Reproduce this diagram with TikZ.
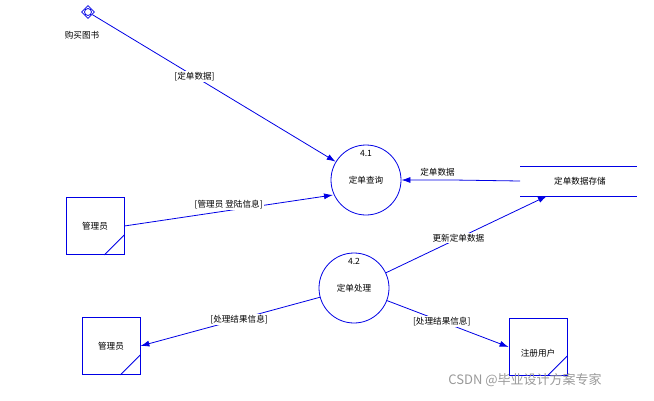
\documentclass[tikz,border=0pt]{standalone}
\usepackage{fontspec}
\setmainfont{Noto Sans CJK SC}
\usetikzlibrary{arrows.meta,shapes.geometric}
\begin{document}
\begin{tikzpicture}[x=1pt,y=-1pt,
  line/.style={draw=blue!90!black,line width=0.8pt},
  flow/.style={line,-{Latex[length=9pt,width=6pt]}},
  proc/.style={circle,line,minimum size=70pt,inner sep=0pt},
  ent/.style={rectangle,line,minimum width=58pt,minimum height=57pt,inner sep=0pt},
  lab/.style={font=\fontsize{8.6}{9}\selectfont,inner sep=1pt,fill=white},
  txt/.style={font=\fontsize{8.6}{9}\selectfont}]
\useasboundingbox (0,0) rectangle (654,400);
\node[diamond,line,minimum size=13pt,inner sep=0pt] (d) at (88,12) {};
\draw[line] (d) circle (3.5pt);
\node[txt] at (82,35) {购买图书};
\node[proc] (p1) at (366,180) {};
\node[txt] at (366,153) {4.1};
\node[txt] at (366,180) {定单查询};
\node[proc] (p2) at (354,288) {};
\node[txt] at (354,261) {4.2};
\node[txt] at (354,288) {定单处理};
\node[ent] (a1) at (95,226) {};
\node[txt] at (95,226) {管理员};
\draw[line] (a1.south east)++(0,-20) -- ++(-20,20);
\node[ent] (a2) at (111,346) {};
\node[txt] at (111,346) {管理员};
\draw[line] (a2.south east)++(0,-20) -- ++(-20,20);
\node[ent] (u) at (538,347) {};
\node[txt] at (538,353) {注册用户};
\draw[line] (u.south east)++(0,-20) -- ++(-20,20);
\coordinate (s) at (520,181);
\draw[line] (520,166) -- (637,166) (520,196) -- (637,196);
\node[txt] at (580,181) {定单数据存储};
\draw[flow] (d) -- node[lab,pos=0.42]{[定单数据]} (p1);
\draw[flow] (a1.east) -- node[lab,pos=0.5,above=0pt]{[管理员 登陆信息]} (333,195);
\draw[flow] (s) -- (453,180) -- node[lab,above=2pt,pos=0.3]{定单数据} (p1.east);
\draw[flow] (p2) -- node[lab,pos=0.45]{更新定单数据} (547,196);
\draw[flow] (p2) -- node[lab,pos=0.45]{[处理结果信息]} (a2.east);
\draw[flow] (p2) -- node[lab,pos=0.45]{[处理结果信息]} (u.west);
\node[font=\fontsize{13}{14}\selectfont,text=gray!80] at (525,380) {CSDN @毕业设计方案专家};
\end{tikzpicture}
\end{document}
